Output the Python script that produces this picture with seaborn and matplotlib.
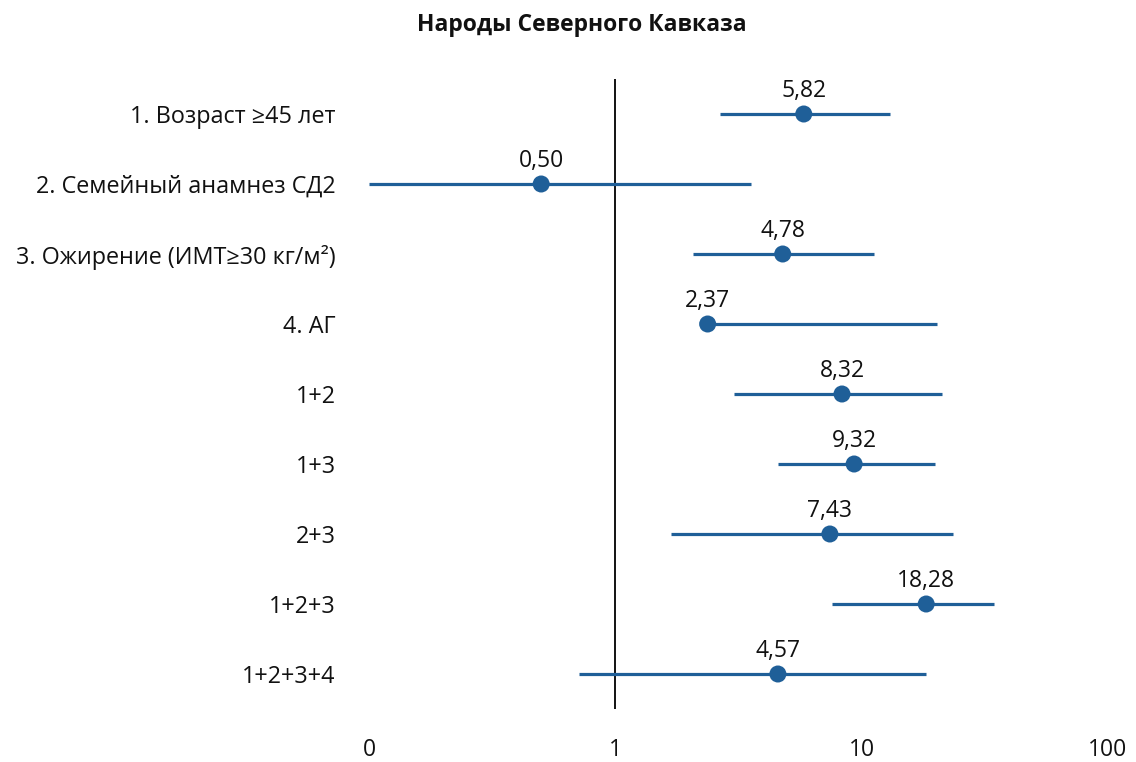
import matplotlib
matplotlib.use("Agg")
import matplotlib.pyplot as plt
import seaborn as sns
import pandas as pd

# Odds ratios with 95% confidence intervals
factors = [
    "1. Возраст ≥45 лет",
    "2. Семейный анамнез СД2",
    "3. Ожирение (ИМТ≥30 кг/м²)",
    "4. АГ",
    "1+2",
    "1+3",
    "2+3",
    "1+2+3",
    "1+2+3+4",
]
odds_ratio = [5.82, 0.50, 4.78, 2.37, 8.32, 9.32, 7.43, 18.28, 4.57]
ci_low = [2.66, 0.10, 2.07, 2.30, 3.03, 4.57, 1.69, 7.56, 0.71]
ci_high = [13.0, 3.55, 11.2, 20.3, 21.1, 19.9, 23.4, 34.5, 18.3]

x_ticks = [0.1, 1, 10, 100]
x_tick_labels = ["0", "1", "10", "100"]

title = "Народы Северного Кавказа"

df = pd.DataFrame({"factor": factors, "or": odds_ratio,
                   "lo": ci_low, "hi": ci_high})
df["row"] = range(len(df))

sns.set_theme(style="white")
plt.rcParams["font.family"] = ["Open Sans", "DejaVu Sans"]

color = "#1f5f98"
ink = "#111111"

fig = plt.figure(figsize=(11.36, 7.62), dpi=100)
ax = fig.add_axes([369 / 1136, 1 - 709 / 762, (1108 - 369) / 1136, (709 - 79) / 762])

ax.set_xscale("log")
ax.hlines(df["row"], df["lo"], df["hi"], color=color, lw=2.3, zorder=2)
sns.scatterplot(data=df, x="or", y="row", ax=ax, color=color, s=150,
                edgecolor="none", zorder=3, legend=False)
ax.axvline(1, color="black", lw=1.3, zorder=1)

for _, r in df.iterrows():
    ax.annotate(f"{r['or']:.2f}".replace(".", ","), (r["or"], r["row"]),
                xytext=(0, 8), textcoords="offset points",
                ha="center", va="bottom", fontsize=16.5, color=ink)

ax.set_xlim(0.1, 100)
ax.set_ylim(len(df) - 0.5, -0.5)
ax.set_xticks(x_ticks)
ax.set_xticklabels(x_tick_labels, fontsize=16.5, color=ink)
ax.minorticks_off()
ax.set_yticks(df["row"])
ax.set_yticklabels(df["factor"], fontsize=16.8, color=ink)
ax.tick_params(axis="x", length=0, pad=21)
ax.tick_params(axis="y", length=0, pad=24)
ax.set_xlabel("")
ax.set_ylabel("")
for s in ax.spines.values():
    s.set_visible(False)

fig.text(582 / 1136, 1 - 25 / 762, title, ha="center", va="center",
         fontsize=16.5, fontweight="bold", color=ink)

fig.savefig("out.png", dpi=100)
